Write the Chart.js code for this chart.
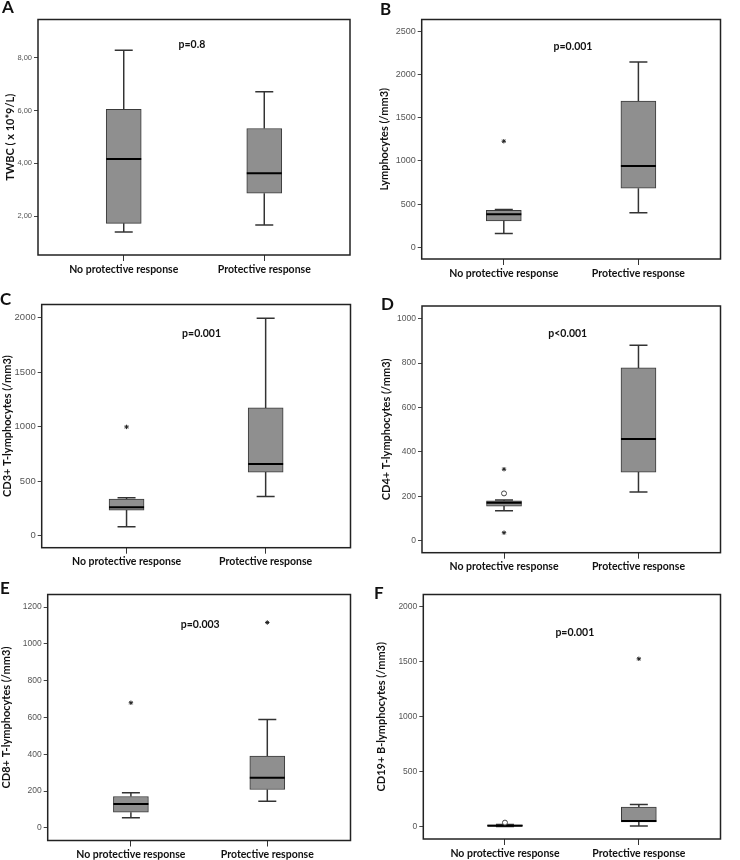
<!DOCTYPE html>
<html><head><meta charset="utf-8">
<script src="https://cdn.jsdelivr.net/npm/chart.js@4"></script>
<style>
html,body{margin:0;padding:0;background:#fff;}
#wrap{position:relative;width:740px;height:860px;overflow:hidden;background:#fff;}
canvas{position:absolute;}
.lbl{position:absolute;font-family:Lato,sans-serif;font-weight:bold;font-size:17px;line-height:17px;color:#111;}
</style></head><body><div id="wrap"></div>
<script>
// ---- data ----
const categories = ['No protective response', 'Protective response'];
// five-number summaries: [min, q1, median, q3, max]
const twbcNo = [1.40, 1.73, 4.17, 6.05, 8.29];
const twbcYes = [1.67, 2.87, 3.63, 5.32, 6.71];
const lymphNo = [159, 306, 382, 427, 438];
const lymphYes = [400, 683, 940, 1692, 2145];
const cd3No = [82, 235, 260, 336, 348];
const cd3Yes = [360, 583, 656, 1171, 1994];
const cd4No = [135, 156, 171, 180, 183];
const cd4Yes = [219, 309, 458, 778, 880];
const cd8No = [55, 86, 130, 171, 191];
const cd8Yes = [145, 209, 273, 391, 589];
const cd19No = [0, 3, 7, 14, 18];
const cd19Yes = [5, 41, 50, 176, 200];
// outliers: [group (1 or 2), value]
const lymphStars = [[1, 1227]];
const cd3Stars = [[1, 997]];
const cd4Stars = [[1, 322], [1, 36]];
const cd4Circles = [[1, 213]];
const cd8Stars = [[1, 680], [2, 1116]];
const cd19Stars = [[2, 1525]];
const cd19Circles = [[1, 35]];
// tick labels
const twbcTicks = [2, 4, 6, 8];
const lymphTicks = [0, 500, 1000, 1500, 2000, 2500];
const cd3Ticks = [0, 500, 1000, 1500, 2000];
const cd4Ticks = [0, 200, 400, 600, 800, 1000];
const cd8Ticks = [0, 200, 400, 600, 800, 1000, 1200];
const cd19Ticks = [0, 500, 1000, 1500, 2000];
const pValues = ['p=0.8', 'p=0.001', 'p=0.001', 'p<0.001', 'p=0.003', 'p=0.001'];

// ---- panels ----
const panels = [
  {letter:'A', title:'TWBC ( x 10*9/L)', no:twbcNo, yes:twbcYes, stars:[], circles:[], ticks:twbcTicks, fmt:v=>v.toFixed(2).replace('.', ','), p:pValues[0]},
  {letter:'B', title:'Lymphocytes (/mm3)', no:lymphNo, yes:lymphYes, stars:lymphStars, circles:[], ticks:lymphTicks, fmt:v=>String(v), p:pValues[1]},
  {letter:'C', title:'CD3+ T-lymphocytes (/mm3)', no:cd3No, yes:cd3Yes, stars:cd3Stars, circles:[], ticks:cd3Ticks, fmt:v=>String(v), p:pValues[2]},
  {letter:'D', title:'CD4+ T-lymphocytes (/mm3)', no:cd4No, yes:cd4Yes, stars:cd4Stars, circles:cd4Circles, ticks:cd4Ticks, fmt:v=>String(v), p:pValues[3]},
  {letter:'E', title:'CD8+ T-lymphocytes (/mm3)', no:cd8No, yes:cd8Yes, stars:cd8Stars, circles:[], ticks:cd8Ticks, fmt:v=>String(v), p:pValues[4]},
  {letter:'F', title:'CD19+ B-lymphocytes (/mm3)', no:cd19No, yes:cd19Yes, stars:cd19Stars, circles:cd19Circles, ticks:cd19Ticks, fmt:v=>String(v), p:pValues[5]}
];
// layout: canvas box, chart area (absolute px), axis range, p-value anchor (data coords), letter pos
const layouts = [
  {left:0, top:0, w:370, h:285, area:[38,12.3,350,255], yr:[0.53,9.45], tickSize:7.5, titlePad:4, pAt:[1.485,8.5], lt:[2,-2]},
  {left:370, top:0, w:370, h:285, area:[421.7,14.3,730.7,259], yr:[-136,2636], tickSize:9, titlePad:8, pAt:[1.514,2326], lt:[380,0]},
  {left:0, top:285, w:370, h:290, area:[41.7,304,350.7,547.7], yr:[-110,2119], tickSize:9.5, titlePad:0.7, pAt:[1.539,1851], lt:[0,290]},
  {left:370, top:285, w:370, h:290, area:[422,306,733,552.7], yr:[-54,1057], tickSize:8.5, titlePad:10, pAt:[1.474,934], lt:[381,295]},
  {left:0, top:575, w:370, h:285, area:[47.7,591.3,361.7,840.7], yr:[-68,1268], tickSize:8.5, titlePad:0, pAt:[1.508,1105], lt:[0,579]},
  {left:370, top:575, w:370, h:285, area:[423.3,591.7,735.7,839], yr:[-114,2110], tickSize:8.5, titlePad:5, pAt:[1.522,1765], lt:[374,584]}
];

const framePlugin = {
  id:'frame',
  beforeDatasetsDraw(chart){
    const {ctx, chartArea:a} = chart;
    ctx.save();
    ctx.strokeStyle = '#222'; ctx.lineWidth = 1.5;
    ctx.strokeRect(a.left, a.top, a.right - a.left, a.bottom - a.top);
    ctx.restore();
  }
};
const pPlugin = {
  id:'pval',
  afterDatasetsDraw(chart, args, opts){
    const {ctx, scales} = chart;
    ctx.save();
    ctx.font = 'bold 10.5px Lato, sans-serif';
    ctx.fillStyle = '#111'; ctx.textAlign = 'center'; ctx.textBaseline = 'middle';
    ctx.fillText(opts.text, scales.x.getPixelForValue(opts.at[0]), scales.y.getPixelForValue(opts.at[1]));
    ctx.restore();
  }
};

const wrap = document.getElementById('wrap');
panels.forEach((P, idx) => {
  const L = layouts[idx];
  const c = document.createElement('canvas');
  c.width = L.w; c.height = L.h;
  c.style.left = L.left + 'px'; c.style.top = L.top + 'px';
  c.style.width = L.w + 'px'; c.style.height = L.h + 'px';
  wrap.appendChild(c);
  const d = document.createElement('div');
  d.className = 'lbl'; d.textContent = P.letter;
  d.style.left = L.lt[0] + 'px'; d.style.top = L.lt[1] + 'px';
  wrap.appendChild(d);

  const groups = [P.no, P.yes];
  const boxes = groups.map((g, i) => ({x:i+1, y:[g[1], g[3]]}));
  const whisk = [];
  groups.forEach((g, i) => {
    whisk.push({x:i+1, y:g[0]}, {x:i+1, y:g[1]}, {x:i+1, y:null}, {x:i+1, y:g[3]}, {x:i+1, y:g[4]}, {x:i+1, y:null});
  });
  const caps = [];
  groups.forEach((g, i) => { caps.push({x:i+1, y:g[0]}, {x:i+1, y:g[4]}); });
  const meds = groups.map((g, i) => ({x:i+1, y:g[2]}));
  const stars = P.stars.map(s => ({x:s[0], y:s[1]}));
  const circles = P.circles.map(s => ({x:s[0], y:s[1]}));

  const [aL, aT, aR, aB] = L.area;
  const yW = aL - L.left, xH = L.top + L.h - aB;

  new Chart(c, {
    type:'scatter',
    data:{datasets:[
      {type:'bar', data:boxes, backgroundColor:'#8f8f8f', borderColor:'#3a3a3a', borderWidth:1, barThickness:35, borderSkipped:false, order:4},
      {type:'line', data:whisk, borderColor:'#333', borderWidth:1.5, pointRadius:0, spanGaps:false, fill:false, order:3},
      {type:'scatter', data:caps, pointStyle:'line', pointRadius:9, pointBorderWidth:1.5, borderColor:'#333', pointBorderColor:'#333', order:2},
      {type:'scatter', data:meds, pointStyle:'line', pointRadius:17.5, pointBorderWidth:2, borderColor:'#000', pointBorderColor:'#000', order:1},
      {type:'scatter', data:stars, pointStyle:'star', pointRadius:2.2, pointBorderWidth:1, borderColor:'#222', pointBorderColor:'#222', order:0},
      {type:'scatter', data:circles, pointStyle:'circle', pointRadius:2.5, pointBorderWidth:1, backgroundColor:'#fff', pointBackgroundColor:'#fff', borderColor:'#444', pointBorderColor:'#444', order:0}
    ]},
    options:{
      responsive:false, animation:false, events:[],
      layout:{padding:{top:aT - L.top, right:L.left + L.w - aR, left:0, bottom:0}},
      plugins:{legend:{display:false}, tooltip:{enabled:false}, pval:{text:P.p, at:L.pAt}},
      scales:{
        x:{type:'linear', min:0.39, max:2.61, offset:false,
          afterFit:s => { s.height = xH; },
          afterBuildTicks:s => { s.ticks = [{value:1}, {value:2}]; },
          grid:{offset:false, drawOnChartArea:false, drawTicks:true, tickLength:6, color:'#333', lineWidth:1},
          border:{display:false},
          ticks:{callback:v => categories[Math.round(v) - 1], font:{family:'Lato', weight:'bold', size:10.5}, color:'#111', padding:2, maxRotation:0, autoSkip:false}
        },
        y:{type:'linear', min:L.yr[0], max:L.yr[1], beginAtZero:false,
          afterFit:s => { s.width = yW; },
          afterBuildTicks:s => { s.ticks = P.ticks.map(v => ({value:v})); },
          grid:{offset:false, drawOnChartArea:false, drawTicks:true, tickLength:4, color:'#444', lineWidth:1},
          border:{display:false},
          ticks:{callback:v => P.fmt(v), font:{family:'Liberation Sans', size:L.tickSize}, color:'#555', padding:2, autoSkip:false},
          title:{display:true, text:P.title, font:{family:'Lato', weight:'bold', size:11}, color:'#111', padding:{top:L.titlePad, bottom:0}}
        }
      }
    },
    plugins:[framePlugin, pPlugin]
  });
});
</script>
</body></html>
